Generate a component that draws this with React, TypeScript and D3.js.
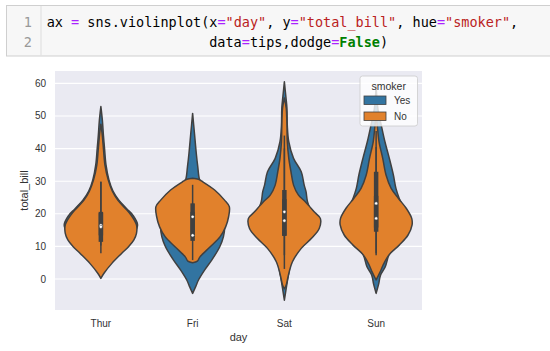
import React from "react";
import * as d3 from "d3";

// ---------- data ----------
const days = ["Thur", "Fri", "Sat", "Sun"];
const hues = ["Yes", "No"];
const hueColors = ["#3274a1", "#e1812c"];
const yTicks = [0, 10, 20, 30, 40, 50, 60];

// violin profiles: total_bill values and relative half-widths (1 = widest)
const thurYesV = [52.9, 48.8, 44, 40, 35, 30.4, 27, 24.2, 21.5, 19.6, 16.6, 14, 12, 9, 6, 3];
const thurYesW = [0, 0.04, 0.07, 0.1, 0.14, 0.22, 0.33, 0.49, 0.71, 0.87, 1.0, 0.9, 0.71, 0.41, 0.16, 0];
const thurNoV = [47.5, 45, 40, 35, 30.4, 27, 24.2, 21.5, 19.6, 16.6, 14, 12, 10, 7.9, 4.8, 1.7, 0.2];
const thurNoW = [0, 0.03, 0.07, 0.11, 0.2, 0.31, 0.46, 0.68, 0.82, 0.97, 0.97, 0.9, 0.76, 0.57, 0.3, 0.08, 0];

const friYesV = [50.8, 44.7, 38.5, 34.5, 30.4, 27.3, 24.2, 20.5, 16, 13, 9.9, 5.8, 2.8, -0.3, -2.4, -4.4];
const friYesW = [0, 0.05, 0.1, 0.14, 0.19, 0.33, 0.52, 0.74, 0.87, 0.84, 0.74, 0.52, 0.33, 0.16, 0.08, 0];
const friNoV = [30.9, 30.6, 30, 27.3, 24.2, 22.2, 19.1, 16, 13, 9.9, 6.8, 5.5, 5.0];
const friNoW = [0, 0.16, 0.25, 0.6, 0.87, 1.0, 0.98, 0.9, 0.75, 0.48, 0.2, 0.13, 0];

const satYesV = [60.5, 56, 52.4, 47, 42.1, 37, 32.9, 28.8, 26.8, 23.7, 20.3, 18, 15, 12.5, 9.4, 5.3, 1.2, -2.9, -6.5];
const satYesW = [0, 0.04, 0.07, 0.08, 0.12, 0.25, 0.46, 0.54, 0.59, 0.63, 0.74, 0.79, 0.76, 0.6, 0.38, 0.19, 0.11, 0.05, 0];
const satNoV = [55.5, 52.4, 47, 42.1, 37, 32.9, 28.8, 25.8, 23.7, 20.3, 18.6, 15.5, 12.5, 9.4, 5.3, 1.2, -1.8, -3];
const satNoW = [0, 0.05, 0.07, 0.08, 0.12, 0.18, 0.25, 0.38, 0.57, 0.84, 0.98, 0.95, 0.74, 0.46, 0.22, 0.11, 0.05, 0];

const sunYesV = [59, 52, 47.2, 42.1, 37, 31.9, 27.8, 24.7, 21.7, 18.6, 16, 13.5, 10.4, 7.4, 3.8, 1.2, -1.5, -4.4];
const sunYesW = [0, 0.05, 0.14, 0.24, 0.36, 0.47, 0.54, 0.63, 0.74, 0.82, 0.82, 0.74, 0.54, 0.35, 0.25, 0.12, 0.07, 0];
const sunNoV = [50, 47.2, 42.1, 37, 31.9, 27.8, 24.7, 21.7, 18.6, 16.6, 13.5, 10.4, 7.4, 4.3, 2.2, -0.3];
const sunNoW = [0, 0.03, 0.08, 0.18, 0.27, 0.41, 0.61, 0.82, 0.97, 0.98, 0.87, 0.63, 0.35, 0.19, 0.11, 0];

// box stats per day: [whisker low, q1, median, q3, whisker high]
const boxYes = [
  [10.3, 13.4, 16.5, 20.6, 29.8],
  [5.8, 11.7, 13.4, 20.6, 28.9],
  [3.1, 13.4, 20.6, 27.3, 44.0],
  [7.3, 15.8, 23.2, 32.9, 45.4],
];
const boxNo = [
  [7.9, 11.4, 16.0, 20.2, 29.8],
  [12.5, 13.0, 19.1, 23.2, 23.2],
  [7.3, 13.2, 17.9, 24.5, 40.0],
  [7.9, 14.5, 18.6, 25.5, 40.5],
];

// code cell tokens
const codeLine1: [string, string][] = [
  ["ax ", "p"], ["=", "o"], [" sns.violinplot(x", "p"], ["=", "o"], ["\"day\"", "s"],
  [", y", "p"], ["=", "o"], ["\"total_bill\"", "s"], [", hue", "p"], ["=", "o"],
  ["\"smoker\"", "s"], [",", "p"],
];
const codeLine2: [string, string][] = [
  ["data", "p"], ["=", "o"], ["tips,dodge", "p"], ["=", "o"], ["False", "k"], [")", "p"],
];
const tokenColor: Record<string, string> = { p: "#000", o: "#aa22ff", s: "#ba2121", k: "#008000" };

const profiles = [
  [[thurYesV, thurYesW], [thurNoV, thurNoW]],
  [[friYesV, friYesW], [friNoV, friNoW]],
  [[satYesV, satYesW], [satNoV, satNoW]],
  [[sunYesV, sunYesW], [sunNoV, sunNoW]],
];

export default function App() {
  const left = 55, right = 422, top = 71, bottom = 310;
  const x = d3.scaleBand<string>().domain(days).range([left, right]).padding(0);
  const y = d3.scaleLinear().domain([-9.5, 63.8]).range([bottom, top]);
  const bw = x.bandwidth();
  const maxHW = bw * 0.4;
  const gray = "#404040";
  const font = "'Liberation Sans', Arial, sans-serif";
  const mono = "'DejaVu Sans Mono', monospace";
  const charW = 13.5 * 0.602;

  const violinPath = (cx: number, vals: number[], ws: number[]) => {
    const pts = vals.map((v, i) => [v, ws[i]] as [number, number]);
    return d3
      .area<[number, number]>()
      .y((d) => y(d[0]))
      .x0((d) => cx - d[1] * maxHW)
      .x1((d) => cx + d[1] * maxHW)
      .curve(d3.curveCatmullRom)(pts) as string;
  };

  return (
    <svg width={550} height={351} style={{ position: "absolute", left: 0, top: 0, background: "#fff" }}>
      {/* code cell */}
      <rect x={6.5} y={5.5} width={600} height={50.5} fill="#f7f7f7" stroke="#cfcfcf" />
      <line x1={41} x2={41} y1={6} y2={55.5} stroke="#dddddd" />
      <text x={32} y={26.5} textAnchor="end" fontFamily={mono} fontSize={13.5} fill="#999">1</text>
      <text x={32} y={46.5} textAnchor="end" fontFamily={mono} fontSize={13.5} fill="#999">2</text>
      <text x={46.7} y={26.5} fontFamily={mono} fontSize={13.5} style={{ whiteSpace: "pre" }}>
        {codeLine1.map((t, i) => (
          <tspan key={i} fill={tokenColor[t[1]]} fontWeight={t[1] === "k" ? "bold" : "normal"}>{t[0]}</tspan>
        ))}
      </text>
      <text x={46.7 + 20 * charW} y={46.5} fontFamily={mono} fontSize={13.5} style={{ whiteSpace: "pre" }}>
        {codeLine2.map((t, i) => (
          <tspan key={i} fill={tokenColor[t[1]]} fontWeight={t[1] === "k" ? "bold" : "normal"}>{t[0]}</tspan>
        ))}
      </text>

      {/* plot background */}
      <rect x={left} y={top} width={right - left} height={bottom - top} fill="#eaeaf2" />
      {yTicks.map((t) => (
        <line key={t} x1={left} x2={right} y1={y(t)} y2={y(t)} stroke="#fff" strokeWidth={1.1} />
      ))}

      {/* violins */}
      {days.map((d, i) => {
        const cx = (x(d) as number) + bw / 2;
        return (
          <g key={d}>
            {hues.map((h, j) => (
              <path
                key={h}
                d={violinPath(cx, profiles[i][j][0], profiles[i][j][1])}
                fill={hueColors[j]}
                stroke={gray}
                strokeWidth={1.5}
                strokeLinejoin="round"
              />
            ))}
          </g>
        );
      })}

      {/* box lines */}
      {days.map((d, i) => {
        const cx = (x(d) as number) + bw / 2;
        const stats = [boxYes[i], boxNo[i]];
        return (
          <g key={d}>
            {stats.map((s, j) => (
              <line key={"w" + j} x1={cx} x2={cx} y1={y(s[0])} y2={y(s[4])} stroke={gray} strokeWidth={1.5} />
            ))}
            {stats.map((s, j) => (
              <line key={"b" + j} x1={cx} x2={cx} y1={y(s[1])} y2={y(s[3])} stroke={gray} strokeWidth={4.5} />
            ))}
            {stats.map((s, j) => (
              <circle key={"m" + j} cx={cx} cy={y(s[2])} r={1.6} fill="#fff" stroke={gray} strokeWidth={0.5} />
            ))}
          </g>
        );
      })}

      {/* y ticks */}
      {yTicks.map((t) => (
        <text key={t} x={46} y={y(t)} dy="0.35em" textAnchor="end" fontFamily={font} fontSize={10} fill="#333">
          {t}
        </text>
      ))}
      {/* x ticks */}
      {days.map((d) => (
        <text key={d} x={(x(d) as number) + bw / 2} y={326.5} textAnchor="middle" fontFamily={font} fontSize={10} fill="#333">
          {d}
        </text>
      ))}
      <text x={(left + right) / 2} y={341} textAnchor="middle" fontFamily={font} fontSize={11} fill="#333">day</text>
      <text transform={`translate(28,${(top + bottom) / 2}) rotate(-90)`} textAnchor="middle" fontFamily={font} fontSize={11} fill="#333">
        total_bill
      </text>

      {/* legend */}
      <rect x={360} y={76} width={57.5} height={50} rx={2.5} fill="#fff" fillOpacity={0.8} stroke="#cccccc" strokeWidth={0.8} />
      <text x={388.75} y={89.8} textAnchor="middle" fontFamily={font} fontSize={10.5} fill="#333">smoker</text>
      {hues.map((h, j) => (
        <g key={h}>
          <rect x={364} y={96 + j * 16} width={22} height={8.5} fill={hueColors[j]} stroke={gray} strokeWidth={0.8} />
          <text x={394} y={104 + j * 16} fontFamily={font} fontSize={10} fill="#333">{h}</text>
        </g>
      ))}
    </svg>
  );
}
